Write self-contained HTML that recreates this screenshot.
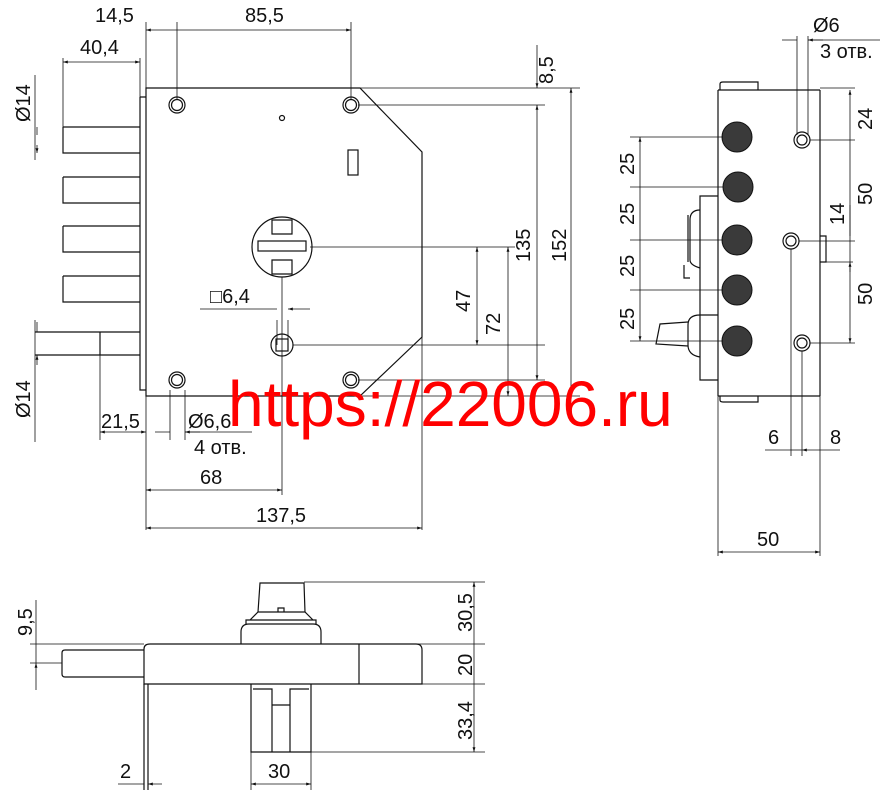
<!DOCTYPE html>
<html><head><meta charset="utf-8"><style>
html,body{margin:0;padding:0;background:#fff;}
svg{display:block;}
text{font-family:"Liberation Sans",sans-serif;font-size:20px;fill:#111;}
.l{stroke:#111;stroke-width:1.2;fill:none;}
.t{stroke:#111;stroke-width:0.8;fill:none;}
.b{fill:#3a3a3a;stroke:#111;stroke-width:1;}
</style></head><body>
<svg width="895" height="811" viewBox="0 0 895 811" xmlns="http://www.w3.org/2000/svg">
<defs>
<marker id="a" viewBox="0 0 10 10" refX="10" refY="5" markerWidth="8" markerHeight="6" orient="auto-start-reverse"><path d="M0,2 L10,5 L0,8 z" fill="#111"/></marker>
</defs>

<!-- FRONT VIEW -->
<path class="l" d="M146,88 H360 L422,152 V337 L360,396 H146 Z"/>
<path class="l" d="M140,97 H146 M140,97 V390 H146"/>
<g class="l">
<path d="M63,127 V153 H140 M63,127 H140"/>
<path d="M63,177 V203 H140 M63,177 H140"/>
<path d="M63,226 V252 H140 M63,226 H140"/>
<path d="M63,276 V302 H140 M63,276 H140"/>
<path d="M100,332 V355 M35,332 H140 M35,355 H140"/>
</g>
<g class="l">
<circle cx="177" cy="105" r="8"/><circle cx="177" cy="105" r="5.5"/>
<circle cx="351" cy="105" r="8"/><circle cx="351" cy="105" r="5.5"/>
<circle cx="177" cy="380" r="8"/><circle cx="177" cy="380" r="5.5"/>
<circle cx="351" cy="380" r="8"/><circle cx="351" cy="380" r="5.5"/>
<circle cx="282" cy="118" r="2.5"/>
<rect x="348" y="150" width="10" height="25"/>
<circle cx="282" cy="247" r="30"/>
<path d="M272,220 h20 v14 h-20z M272,260 h20 v14 h-20z"/>
<rect x="258" y="241" width="48" height="10"/>
<circle cx="282" cy="345" r="11"/><rect x="276" y="339" width="12" height="12"/>
</g>
<g class="t">
<path d="M146,22 V88 M177,22 V100 M351,22 V100"/>
<path d="M146,30 H177 M177,30 H351" marker-start="url(#a)" marker-end="url(#a)"/>
<path d="M63,58 V127 M140,58 V97"/>
<path d="M63,62 H140" marker-start="url(#a)" marker-end="url(#a)"/>
<path d="M35,75 V160" /><path d="M37,135 V127 M37,145 V153" marker-end="url(#a)"/>
<path d="M35,320 V442"/><path d="M37,322 V332 M37,365 V355" marker-end="url(#a)"/>
<path d="M360,88 H580 M358,105 H545 M310,247 H515 M293,345 H545 M358,380 H545 M360,396 H580"/>
<path d="M537,45 V88" marker-end="url(#a)"/>
<path d="M537,105 V380" marker-start="url(#a)" marker-end="url(#a)"/>
<path d="M571,88 V396" marker-start="url(#a)" marker-end="url(#a)"/>
<path d="M477,247 V345" marker-start="url(#a)" marker-end="url(#a)"/>
<path d="M508,247 V396" marker-start="url(#a)" marker-end="url(#a)"/>
<path d="M100,355 V440 M146,396 V530 M422,337 V530 M282,277 V495 M277,320 V345 M288,320 V345 M170,390 V440 M185,390 V440"/>
<path d="M100,432 H146" marker-start="url(#a)" marker-end="url(#a)"/>
<path d="M155,432 H170 M200,432 H185" marker-end="url(#a)"/><path d="M185,432 H252"/>
<path d="M200,309 H277 M310,309 H288" marker-end="url(#a)"/>
<path d="M146,490 H282" marker-start="url(#a)" marker-end="url(#a)"/>
<path d="M146,528 H422" marker-start="url(#a)" marker-end="url(#a)"/>
</g>
<text x="95" y="22">14,5</text><text x="245" y="22">85,5</text>
<text x="80" y="54">40,4</text>
<text transform="translate(30,122) rotate(-90)">Ø14</text>
<text transform="translate(30,418) rotate(-90)">Ø14</text>
<text transform="translate(553,84) rotate(-90)">8,5</text>
<text transform="translate(530,262) rotate(-90)">135</text>
<text transform="translate(566,262) rotate(-90)">152</text>
<text transform="translate(470,312) rotate(-90)">47</text>
<text transform="translate(500,335) rotate(-90)">72</text>
<text x="210" y="303">□6,4</text>
<text x="101" y="428">21,5</text>
<text x="188" y="428">Ø6,6</text>
<text x="194" y="454">4 отв.</text>
<text x="200" y="484">68</text>
<text x="256" y="522">137,5</text>

<!-- SIDE VIEW -->
<g class="l">
<path d="M718,90 V396 M820,90 V396 M718,90 H820 M718,396 H820"/>
<path d="M720,90 V84 Q720,82 723,82 H758 V90 M720,396 V400 Q720,402 723,402 H758 V396"/>
<path d="M718,196 H700 V328 M718,315 H700 V380 H718"/>
<path d="M700,210 Q690,210 690,220 V260 Q690,265 700,268"/>
<path d="M688,215 V262 M684,265 V278 H690"/>
<path d="M700,315 Q688,315 688,325 V345 Q688,355 700,357"/>
<path d="M688,322 L660,324 L656,344 L688,346"/>
<path d="M820,236 H826 V262 H820"/>
</g>
<g>
<circle class="b" cx="737" cy="137" r="15"/>
<circle class="b" cx="738" cy="187" r="15"/>
<circle class="b" cx="737" cy="240" r="15"/>
<circle class="b" cx="737" cy="290" r="15"/>
<circle class="b" cx="737" cy="341" r="15"/>
</g>
<g class="l">
<circle cx="802" cy="140" r="8"/><circle cx="802" cy="140" r="5"/>
<circle cx="791" cy="241" r="8"/><circle cx="791" cy="241" r="5"/>
<circle cx="802" cy="343" r="8"/><circle cx="802" cy="343" r="5"/>
</g>
<g class="t">
<path d="M797,36 V135 M808,36 V135 M782,40 H797 M823,40 H808" marker-end="url(#a)"/><path d="M808,40 H880"/>
<path d="M820,88 H855 M810,140 H855 M799,241 H855 M810,343 H855 M826,262 H853"/>
<path d="M850,90 V140 M850,140 V241 M850,241 V343" marker-start="url(#a)" marker-end="url(#a)"/>
<path d="M850,205 V236 M850,272 V262" marker-end="url(#a)"/>
<path d="M630,137 H723 M630,187 H723 M630,240 H723 M630,290 H723 M630,341 H723"/>
<path d="M640,137 V187 M640,187 V240 M640,240 V290 M640,290 V341" marker-start="url(#a)" marker-end="url(#a)"/>
<path d="M791,249 V456 M802,351 V456 M718,396 V556 M820,396 V556"/>
<path d="M765,450 H791 M840,450 H802" marker-end="url(#a)"/><path d="M791,450 H802"/>
<path d="M718,552 H820" marker-start="url(#a)" marker-end="url(#a)"/>
</g>
<text x="813" y="32">Ø6</text><text x="820" y="58">3 отв.</text>
<text transform="translate(872,130) rotate(-90)">24</text>
<text transform="translate(872,205) rotate(-90)">50</text>
<text transform="translate(844,225) rotate(-90)">14</text>
<text transform="translate(872,305) rotate(-90)">50</text>
<text transform="translate(634,175) rotate(-90)">25</text>
<text transform="translate(634,225) rotate(-90)">25</text>
<text transform="translate(634,277) rotate(-90)">25</text>
<text transform="translate(634,330) rotate(-90)">25</text>
<text x="768" y="444">6</text><text x="830" y="444">8</text>
<text x="757" y="546">50</text>

<!-- BOTTOM VIEW -->
<g class="l">
<path d="M144,684 V649 Q144,644 150,644 H416 Q422,644 422,650 V684 Z"/>
<path d="M359,644 V684"/>
<path d="M144,650 H65 Q62,650 62,653 V674 Q62,677 65,677 H144"/>
<path d="M241,644 V632 Q241,624 249,624 H313 Q321,624 321,632 V644"/>
<path d="M246,624 V620 H316 V624 M250,620 L258,612 H305 L313,620"/>
<path d="M258,612 L260,583 H304 L305,612"/>
<path d="M278,612 V608 H284 V612"/>
<path d="M251,684 V752 H311 V684"/>
<path d="M253,689 H272 V752 M290,752 V689 H309"/>
<path d="M272,705 H290"/>
<path d="M144,684 V790 M148,684 V790"/>
</g>
<g class="t">
<path d="M304,582 H485 M321,644 H485 M422,684 H485 M311,752 H485"/>
<path d="M474,582 V644 M474,644 V684 M474,684 V752" marker-start="url(#a)" marker-end="url(#a)"/>
<path d="M30,644 H144 M30,663 H62"/>
<path d="M36,600 V644 M36,690 V663" marker-end="url(#a)"/><path d="M36,644 V663"/>
<path d="M118,784 H144 M162,784 H148" marker-end="url(#a)"/>
<path d="M251,752 V790 M311,752 V790"/>
<path d="M251,784 H311" marker-start="url(#a)" marker-end="url(#a)"/>
</g>
<text transform="translate(472,632) rotate(-90)">30,5</text>
<text transform="translate(472,676) rotate(-90)">20</text>
<text transform="translate(472,740) rotate(-90)">33,4</text>
<text transform="translate(32,636) rotate(-90)">9,5</text>
<text x="120" y="778">2</text>
<text x="268" y="778">30</text>

<text x="228" y="426" style="font-size:64px;fill:#ff0000;">https://22006.ru</text>
</svg>
</body></html>
